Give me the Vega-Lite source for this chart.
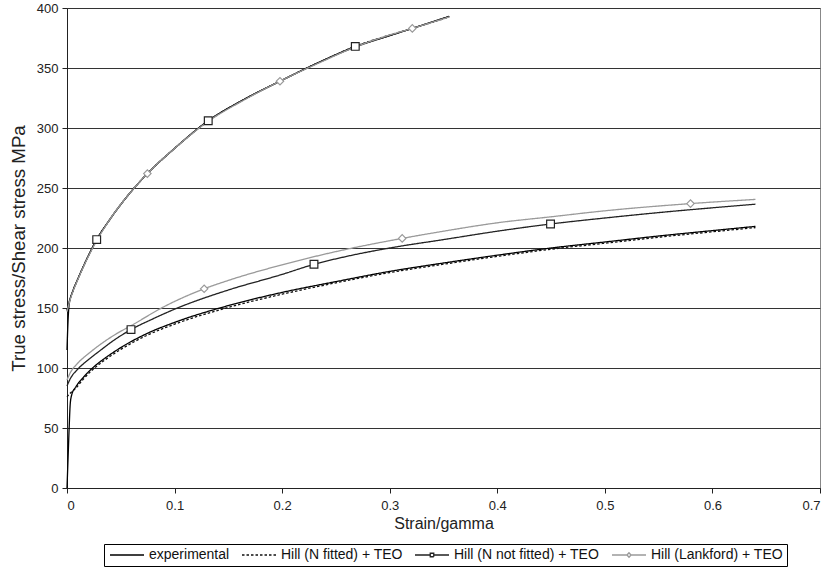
{
  "$schema": "https://vega.github.io/schema/vega-lite/v6.json",
  "width": 753,
  "height": 480,
  "autosize": {"type": "none"},
  "padding": {"left": 67, "top": 8, "right": 9, "bottom": 82},
  "background": "white",
  "config": {
    "font": "Liberation Sans",
    "view": {"stroke": "#888", "strokeWidth": 1},
    "axis": {"labelFont": "Liberation Sans", "titleFont": "Liberation Sans", "labelColor": "#222", "titleColor": "#222", "titleFontWeight": "normal"},
    "legend": {"labelFont": "Liberation Sans"}
  },
  "datasets": {
    "curves": [
      {"series": "experimental", "group": "upper", "x": 0, "y": 115},
      {"series": "experimental", "group": "upper", "x": 0.001, "y": 140},
      {"series": "experimental", "group": "upper", "x": 0.002, "y": 153},
      {"series": "experimental", "group": "upper", "x": 0.005, "y": 163},
      {"series": "experimental", "group": "upper", "x": 0.01, "y": 174},
      {"series": "experimental", "group": "upper", "x": 0.018, "y": 190},
      {"series": "experimental", "group": "upper", "x": 0.0276, "y": 207},
      {"series": "experimental", "group": "upper", "x": 0.04, "y": 224},
      {"series": "experimental", "group": "upper", "x": 0.055, "y": 242},
      {"series": "experimental", "group": "upper", "x": 0.0747, "y": 262},
      {"series": "experimental", "group": "upper", "x": 0.1, "y": 283},
      {"series": "experimental", "group": "upper", "x": 0.1313, "y": 306},
      {"series": "experimental", "group": "upper", "x": 0.165, "y": 324},
      {"series": "experimental", "group": "upper", "x": 0.198, "y": 339},
      {"series": "experimental", "group": "upper", "x": 0.235, "y": 355},
      {"series": "experimental", "group": "upper", "x": 0.268, "y": 367.5},
      {"series": "experimental", "group": "upper", "x": 0.3, "y": 377},
      {"series": "experimental", "group": "upper", "x": 0.321, "y": 383},
      {"series": "experimental", "group": "upper", "x": 0.3553, "y": 393},

      {"series": "Hill (N fitted) + TEO", "group": "upper", "x": 0, "y": 148},
      {"series": "Hill (N fitted) + TEO", "group": "upper", "x": 0.002, "y": 155},
      {"series": "Hill (N fitted) + TEO", "group": "upper", "x": 0.005, "y": 163},
      {"series": "Hill (N fitted) + TEO", "group": "upper", "x": 0.01, "y": 174},
      {"series": "Hill (N fitted) + TEO", "group": "upper", "x": 0.018, "y": 190},
      {"series": "Hill (N fitted) + TEO", "group": "upper", "x": 0.0276, "y": 207},
      {"series": "Hill (N fitted) + TEO", "group": "upper", "x": 0.04, "y": 224},
      {"series": "Hill (N fitted) + TEO", "group": "upper", "x": 0.055, "y": 242},
      {"series": "Hill (N fitted) + TEO", "group": "upper", "x": 0.0747, "y": 262},
      {"series": "Hill (N fitted) + TEO", "group": "upper", "x": 0.1, "y": 283},
      {"series": "Hill (N fitted) + TEO", "group": "upper", "x": 0.1313, "y": 306},
      {"series": "Hill (N fitted) + TEO", "group": "upper", "x": 0.165, "y": 324},
      {"series": "Hill (N fitted) + TEO", "group": "upper", "x": 0.198, "y": 339},
      {"series": "Hill (N fitted) + TEO", "group": "upper", "x": 0.235, "y": 355},
      {"series": "Hill (N fitted) + TEO", "group": "upper", "x": 0.268, "y": 368},
      {"series": "Hill (N fitted) + TEO", "group": "upper", "x": 0.3, "y": 377.5},
      {"series": "Hill (N fitted) + TEO", "group": "upper", "x": 0.321, "y": 383},
      {"series": "Hill (N fitted) + TEO", "group": "upper", "x": 0.3553, "y": 392.5},

      {"series": "Hill (N not fitted) + TEO", "group": "upper", "x": 0, "y": 148},
      {"series": "Hill (N not fitted) + TEO", "group": "upper", "x": 0.002, "y": 155},
      {"series": "Hill (N not fitted) + TEO", "group": "upper", "x": 0.005, "y": 163},
      {"series": "Hill (N not fitted) + TEO", "group": "upper", "x": 0.01, "y": 174},
      {"series": "Hill (N not fitted) + TEO", "group": "upper", "x": 0.018, "y": 190},
      {"series": "Hill (N not fitted) + TEO", "group": "upper", "x": 0.0276, "y": 207},
      {"series": "Hill (N not fitted) + TEO", "group": "upper", "x": 0.04, "y": 224},
      {"series": "Hill (N not fitted) + TEO", "group": "upper", "x": 0.055, "y": 242},
      {"series": "Hill (N not fitted) + TEO", "group": "upper", "x": 0.0747, "y": 262},
      {"series": "Hill (N not fitted) + TEO", "group": "upper", "x": 0.1, "y": 283},
      {"series": "Hill (N not fitted) + TEO", "group": "upper", "x": 0.1313, "y": 306},
      {"series": "Hill (N not fitted) + TEO", "group": "upper", "x": 0.165, "y": 324},
      {"series": "Hill (N not fitted) + TEO", "group": "upper", "x": 0.198, "y": 339},
      {"series": "Hill (N not fitted) + TEO", "group": "upper", "x": 0.235, "y": 355},
      {"series": "Hill (N not fitted) + TEO", "group": "upper", "x": 0.268, "y": 368},
      {"series": "Hill (N not fitted) + TEO", "group": "upper", "x": 0.3, "y": 377},
      {"series": "Hill (N not fitted) + TEO", "group": "upper", "x": 0.321, "y": 383},
      {"series": "Hill (N not fitted) + TEO", "group": "upper", "x": 0.3553, "y": 393},

      {"series": "Hill (Lankford) + TEO", "group": "upper", "x": 0, "y": 147},
      {"series": "Hill (Lankford) + TEO", "group": "upper", "x": 0.002, "y": 154},
      {"series": "Hill (Lankford) + TEO", "group": "upper", "x": 0.005, "y": 162.5},
      {"series": "Hill (Lankford) + TEO", "group": "upper", "x": 0.01, "y": 173.5},
      {"series": "Hill (Lankford) + TEO", "group": "upper", "x": 0.018, "y": 189.5},
      {"series": "Hill (Lankford) + TEO", "group": "upper", "x": 0.0276, "y": 206},
      {"series": "Hill (Lankford) + TEO", "group": "upper", "x": 0.04, "y": 224},
      {"series": "Hill (Lankford) + TEO", "group": "upper", "x": 0.055, "y": 242},
      {"series": "Hill (Lankford) + TEO", "group": "upper", "x": 0.0747, "y": 262},
      {"series": "Hill (Lankford) + TEO", "group": "upper", "x": 0.1, "y": 283},
      {"series": "Hill (Lankford) + TEO", "group": "upper", "x": 0.1313, "y": 305.5},
      {"series": "Hill (Lankford) + TEO", "group": "upper", "x": 0.165, "y": 323.5},
      {"series": "Hill (Lankford) + TEO", "group": "upper", "x": 0.198, "y": 339},
      {"series": "Hill (Lankford) + TEO", "group": "upper", "x": 0.235, "y": 354.5},
      {"series": "Hill (Lankford) + TEO", "group": "upper", "x": 0.268, "y": 367.5},
      {"series": "Hill (Lankford) + TEO", "group": "upper", "x": 0.3, "y": 377.5},
      {"series": "Hill (Lankford) + TEO", "group": "upper", "x": 0.321, "y": 383},
      {"series": "Hill (Lankford) + TEO", "group": "upper", "x": 0.3553, "y": 392.5},

      {"series": "experimental", "group": "lower", "x": 0, "y": 0},
      {"series": "experimental", "group": "lower", "x": 0.001, "y": 25},
      {"series": "experimental", "group": "lower", "x": 0.002, "y": 50},
      {"series": "experimental", "group": "lower", "x": 0.003, "y": 70},
      {"series": "experimental", "group": "lower", "x": 0.0045, "y": 78},
      {"series": "experimental", "group": "lower", "x": 0.008, "y": 84},
      {"series": "experimental", "group": "lower", "x": 0.015, "y": 92},
      {"series": "experimental", "group": "lower", "x": 0.025, "y": 101},
      {"series": "experimental", "group": "lower", "x": 0.035, "y": 108},
      {"series": "experimental", "group": "lower", "x": 0.05, "y": 117},
      {"series": "experimental", "group": "lower", "x": 0.075, "y": 129},
      {"series": "experimental", "group": "lower", "x": 0.1, "y": 138},
      {"series": "experimental", "group": "lower", "x": 0.15, "y": 152},
      {"series": "experimental", "group": "lower", "x": 0.2, "y": 163},
      {"series": "experimental", "group": "lower", "x": 0.25, "y": 172},
      {"series": "experimental", "group": "lower", "x": 0.3, "y": 180.5},
      {"series": "experimental", "group": "lower", "x": 0.35, "y": 187.5},
      {"series": "experimental", "group": "lower", "x": 0.4, "y": 194},
      {"series": "experimental", "group": "lower", "x": 0.45, "y": 200},
      {"series": "experimental", "group": "lower", "x": 0.5, "y": 205},
      {"series": "experimental", "group": "lower", "x": 0.55, "y": 210},
      {"series": "experimental", "group": "lower", "x": 0.6, "y": 214.5},
      {"series": "experimental", "group": "lower", "x": 0.64, "y": 218},

      {"series": "Hill (N fitted) + TEO", "group": "lower", "x": 0, "y": 76},
      {"series": "Hill (N fitted) + TEO", "group": "lower", "x": 0.003, "y": 79},
      {"series": "Hill (N fitted) + TEO", "group": "lower", "x": 0.008, "y": 83},
      {"series": "Hill (N fitted) + TEO", "group": "lower", "x": 0.015, "y": 90.5},
      {"series": "Hill (N fitted) + TEO", "group": "lower", "x": 0.025, "y": 99.5},
      {"series": "Hill (N fitted) + TEO", "group": "lower", "x": 0.035, "y": 106.5},
      {"series": "Hill (N fitted) + TEO", "group": "lower", "x": 0.05, "y": 115.5},
      {"series": "Hill (N fitted) + TEO", "group": "lower", "x": 0.075, "y": 127.5},
      {"series": "Hill (N fitted) + TEO", "group": "lower", "x": 0.1, "y": 136.5},
      {"series": "Hill (N fitted) + TEO", "group": "lower", "x": 0.15, "y": 150.5},
      {"series": "Hill (N fitted) + TEO", "group": "lower", "x": 0.2, "y": 161.5},
      {"series": "Hill (N fitted) + TEO", "group": "lower", "x": 0.25, "y": 171},
      {"series": "Hill (N fitted) + TEO", "group": "lower", "x": 0.3, "y": 179.5},
      {"series": "Hill (N fitted) + TEO", "group": "lower", "x": 0.35, "y": 186.5},
      {"series": "Hill (N fitted) + TEO", "group": "lower", "x": 0.4, "y": 193},
      {"series": "Hill (N fitted) + TEO", "group": "lower", "x": 0.45, "y": 199},
      {"series": "Hill (N fitted) + TEO", "group": "lower", "x": 0.5, "y": 204},
      {"series": "Hill (N fitted) + TEO", "group": "lower", "x": 0.55, "y": 209},
      {"series": "Hill (N fitted) + TEO", "group": "lower", "x": 0.6, "y": 213.5},
      {"series": "Hill (N fitted) + TEO", "group": "lower", "x": 0.64, "y": 217},

      {"series": "Hill (N not fitted) + TEO", "group": "lower", "x": 0, "y": 85},
      {"series": "Hill (N not fitted) + TEO", "group": "lower", "x": 0.003, "y": 91},
      {"series": "Hill (N not fitted) + TEO", "group": "lower", "x": 0.01, "y": 99},
      {"series": "Hill (N not fitted) + TEO", "group": "lower", "x": 0.02, "y": 107},
      {"series": "Hill (N not fitted) + TEO", "group": "lower", "x": 0.03, "y": 114},
      {"series": "Hill (N not fitted) + TEO", "group": "lower", "x": 0.045, "y": 124},
      {"series": "Hill (N not fitted) + TEO", "group": "lower", "x": 0.0595, "y": 132},
      {"series": "Hill (N not fitted) + TEO", "group": "lower", "x": 0.08, "y": 141},
      {"series": "Hill (N not fitted) + TEO", "group": "lower", "x": 0.1, "y": 149},
      {"series": "Hill (N not fitted) + TEO", "group": "lower", "x": 0.15, "y": 165},
      {"series": "Hill (N not fitted) + TEO", "group": "lower", "x": 0.2, "y": 178},
      {"series": "Hill (N not fitted) + TEO", "group": "lower", "x": 0.2296, "y": 186.4},
      {"series": "Hill (N not fitted) + TEO", "group": "lower", "x": 0.26, "y": 193},
      {"series": "Hill (N not fitted) + TEO", "group": "lower", "x": 0.3, "y": 200},
      {"series": "Hill (N not fitted) + TEO", "group": "lower", "x": 0.35, "y": 207},
      {"series": "Hill (N not fitted) + TEO", "group": "lower", "x": 0.4, "y": 214},
      {"series": "Hill (N not fitted) + TEO", "group": "lower", "x": 0.4495, "y": 220},
      {"series": "Hill (N not fitted) + TEO", "group": "lower", "x": 0.5, "y": 225},
      {"series": "Hill (N not fitted) + TEO", "group": "lower", "x": 0.55, "y": 229.5},
      {"series": "Hill (N not fitted) + TEO", "group": "lower", "x": 0.6, "y": 233.5},
      {"series": "Hill (N not fitted) + TEO", "group": "lower", "x": 0.64, "y": 236.5},

      {"series": "Hill (Lankford) + TEO", "group": "lower", "x": 0, "y": 90},
      {"series": "Hill (Lankford) + TEO", "group": "lower", "x": 0.003, "y": 96},
      {"series": "Hill (Lankford) + TEO", "group": "lower", "x": 0.01, "y": 104},
      {"series": "Hill (Lankford) + TEO", "group": "lower", "x": 0.02, "y": 112},
      {"series": "Hill (Lankford) + TEO", "group": "lower", "x": 0.03, "y": 119},
      {"series": "Hill (Lankford) + TEO", "group": "lower", "x": 0.045, "y": 128},
      {"series": "Hill (Lankford) + TEO", "group": "lower", "x": 0.06, "y": 135.5},
      {"series": "Hill (Lankford) + TEO", "group": "lower", "x": 0.09, "y": 151},
      {"series": "Hill (Lankford) + TEO", "group": "lower", "x": 0.1275, "y": 166},
      {"series": "Hill (Lankford) + TEO", "group": "lower", "x": 0.15, "y": 173},
      {"series": "Hill (Lankford) + TEO", "group": "lower", "x": 0.2, "y": 186},
      {"series": "Hill (Lankford) + TEO", "group": "lower", "x": 0.25, "y": 197},
      {"series": "Hill (Lankford) + TEO", "group": "lower", "x": 0.3116, "y": 208},
      {"series": "Hill (Lankford) + TEO", "group": "lower", "x": 0.35, "y": 214},
      {"series": "Hill (Lankford) + TEO", "group": "lower", "x": 0.4, "y": 221},
      {"series": "Hill (Lankford) + TEO", "group": "lower", "x": 0.45, "y": 226},
      {"series": "Hill (Lankford) + TEO", "group": "lower", "x": 0.5, "y": 231},
      {"series": "Hill (Lankford) + TEO", "group": "lower", "x": 0.5796, "y": 237},
      {"series": "Hill (Lankford) + TEO", "group": "lower", "x": 0.64, "y": 240.5}
    ],
    "markers": [
      {"series": "Hill (N not fitted) + TEO", "x": 0.0276, "y": 207},
      {"series": "Hill (N not fitted) + TEO", "x": 0.1313, "y": 306},
      {"series": "Hill (N not fitted) + TEO", "x": 0.268, "y": 368},
      {"series": "Hill (N not fitted) + TEO", "x": 0.0595, "y": 132},
      {"series": "Hill (N not fitted) + TEO", "x": 0.2296, "y": 186.4},
      {"series": "Hill (N not fitted) + TEO", "x": 0.4495, "y": 220},
      {"series": "Hill (Lankford) + TEO", "x": 0.0747, "y": 262},
      {"series": "Hill (Lankford) + TEO", "x": 0.198, "y": 339},
      {"series": "Hill (Lankford) + TEO", "x": 0.321, "y": 383},
      {"series": "Hill (Lankford) + TEO", "x": 0.1275, "y": 166},
      {"series": "Hill (Lankford) + TEO", "x": 0.3116, "y": 208},
      {"series": "Hill (Lankford) + TEO", "x": 0.5796, "y": 237}
    ]
  },
  "layer": [
    {
      "data": {"name": "curves"},
      "mark": {"type": "line", "strokeWidth": 1.3, "interpolate": "monotone"},
      "encoding": {
        "x": {
          "field": "x", "type": "quantitative",
          "scale": {"domain": [0, 0.7], "nice": false},
          "axis": {
            "title": "Strain/gamma", "titleFontSize": 16, "titlePadding": 3,
            "values": [0, 0.1, 0.2, 0.3, 0.4, 0.5, 0.6, 0.7], "format": ".1~f",
            "labelFontSize": 13, "labelPadding": 6, "tickSize": 5, "tickColor": "#222",
            "domainColor": "#222", "grid": false
          }
        },
        "y": {
          "field": "y", "type": "quantitative",
          "scale": {"domain": [0, 400], "nice": false},
          "axis": {
            "title": "True stress/Shear stress MPa", "titleFontSize": 18.7, "titlePadding": 8,
            "values": [0, 50, 100, 150, 200, 250, 300, 350, 400],
            "labelFontSize": 13, "labelPadding": 4, "tickSize": 5, "tickColor": "#222",
            "domainColor": "#222", "grid": true, "gridColor": "#333", "gridOpacity": 1, "gridWidth": 1
          }
        },
        "detail": {"field": "group"},
        "color": {
          "field": "series", "type": "nominal",
          "scale": {
            "domain": ["experimental", "Hill (N fitted) + TEO", "Hill (N not fitted) + TEO", "Hill (Lankford) + TEO"],
            "range": ["#000000", "#111111", "#222222", "#9a9a9a"]
          },
          "legend": {
            "title": null, "orient": "none", "legendX": 37, "legendY": 536,
            "direction": "horizontal", "columns": 4,
            "strokeColor": "#000", "padding": 4,
            "labelFontSize": 14, "labelColor": "#111", "labelOffset": 27,
            "columnPadding": 9, "symbolSize": 100, "symbolStrokeWidth": 1.3,
            "symbolType": "stroke",
            "encode": {
              "symbols": {
                "update": {
                  "shape": {"signal": "datum.value === 'Hill (N not fitted) + TEO' ? 'M-1,0H2.05M2.75,0H5.8M2.05,-0.35H2.75V0.35H2.05Z' : datum.value === 'Hill (Lankford) + TEO' ? 'M-1,0H2M2.8,0H5.8M2,0L2.4,-0.45L2.8,0L2.4,0.45Z' : 'M-1,0H5.8'"},
                  "fill": {"value": "white"}
                }
              }
            }
          }
        },
        "strokeDash": {
          "field": "series", "type": "nominal",
          "scale": {
            "domain": ["experimental", "Hill (N fitted) + TEO", "Hill (N not fitted) + TEO", "Hill (Lankford) + TEO"],
            "range": [[1, 0], [2.5, 2], [1, 0], [1, 0]]
          }
        }
      }
    },
    {
      "data": {"name": "markers"},
      "transform": [{"filter": "datum.series === 'Hill (N not fitted) + TEO'"}],
      "mark": {"type": "point", "shape": "square", "size": 60, "filled": false, "fill": "white", "fillOpacity": 1, "stroke": "#222", "strokeWidth": 1.2, "opacity": 1},
      "encoding": {
        "x": {"field": "x", "type": "quantitative"},
        "y": {"field": "y", "type": "quantitative"}
      }
    },
    {
      "data": {"name": "markers"},
      "transform": [{"filter": "datum.series === 'Hill (Lankford) + TEO'"}],
      "mark": {"type": "point", "shape": "diamond", "size": 55, "filled": false, "fill": "white", "fillOpacity": 1, "stroke": "#999", "strokeWidth": 1.2, "opacity": 1},
      "encoding": {
        "x": {"field": "x", "type": "quantitative"},
        "y": {"field": "y", "type": "quantitative"}
      }
    }
  ]
}
